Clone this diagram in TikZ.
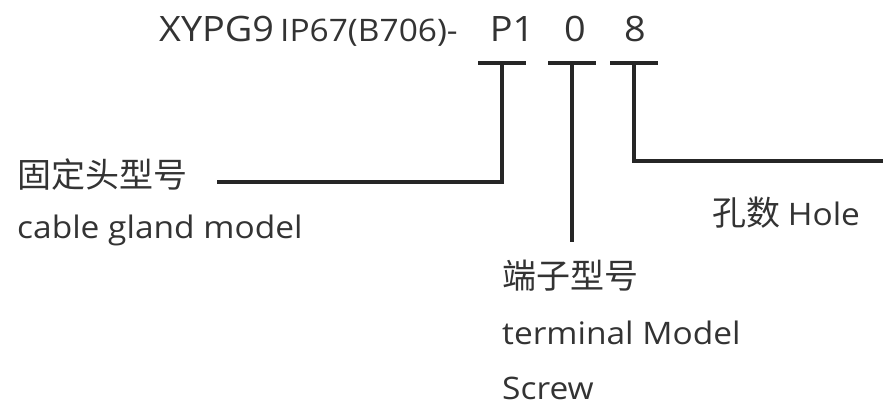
\documentclass[tikz,border=0pt]{standalone}
\usepackage{fontspec}
\setmainfont{Open Sans}[FakeStretch=1.08]
\newfontfamily\cjk{Noto Sans CJK SC}
\usetikzlibrary{positioning}
\tikzset{
  codetext/.style={font=\fontsize{35}{35}\selectfont,text=black!80,inner sep=0pt},
  lbl/.style={font=\fontsize{31}{31}\selectfont,text=black!80,inner sep=0pt,anchor=base west},
  cnlbl/.style={font=\cjk\fontsize{34}{34}\selectfont,text=black!80,inner sep=0pt,anchor=west},
  wire/.style={line width=3.2pt,draw=black!85}
}
\begin{document}
\begin{tikzpicture}[x=1pt,y=-1pt]
\useasboundingbox(0,0)rectangle(895,409);
% model code
\node[codetext,anchor=base west](code)at(159,42){XYPG9};
\node[codetext,font=\fontsize{31}{31}\selectfont,anchor=base west](code-ip)at(280,42){IP67(B706)-};
\foreach \n/\tx/\x/\lb in{p/512/502/P1,t/575/572/0,h/635/634/8}{
  \node[codetext,anchor=base](\n)at(\tx,42){\lb};
  \coordinate(bar-\n)at(\x,63);
  \draw[wire](\x-24,63)--(\x+24,63);
}
% labels
\node[cnlbl](gland)at(17,175){固定头型号};
\node[lbl](gland-en)at(17,239){cable gland model};
\node[cnlbl](term)at(502,276){端子型号};
\node[lbl](term-en)at(502,344){terminal Model};
\node[lbl](screw)at(502,399){Screw};
\node[cnlbl](hole)at(712,213){孔数 {\rmfamily\fontsize{31}{31}\selectfont Hole}};
% leader lines
\coordinate(gland-end)at(217,182);
\coordinate(term-end)at(572,242);
\coordinate(hole-end)at(883,161);
\draw[wire](bar-p)|-(gland-end);
\draw[wire](bar-t)--(term-end);
\draw[wire](bar-h)|-(hole-end);
\end{tikzpicture}
\end{document}
